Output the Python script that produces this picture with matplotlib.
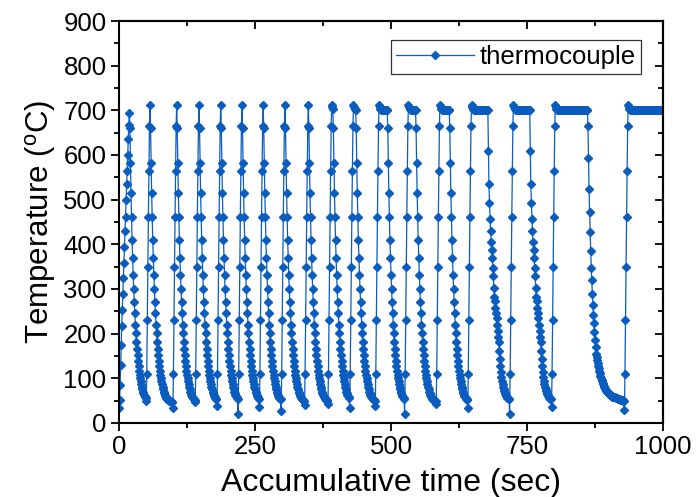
import numpy as np
import matplotlib
matplotlib.use("Agg")
import matplotlib.pyplot as plt
from matplotlib.ticker import MultipleLocator

plt.rcParams['font.family'] = ['Liberation Sans', 'DejaVu Sans']
plt.rcParams['mathtext.default'] = 'regular'

# ---- data (1 sample per second) ----
first_heat = [33, 51, 85, 130, 175, 216, 253, 289, 324, 359, 395, 429, 462, 500,
              534, 565, 601, 636, 668, 694]
heat_rise = [110, 230, 350, 460, 565, 665, 712]          # after the dip point
dips = [48, 33, 46, 37, 21, 35, 27, 40, 43, 33, 37, 21, 43, 34, 21, 36, 29]  # cycles 2..18
hold_lead = [707, 704, 702, 701]
hold_level = 700
hold_counts = [0, 0, 0, 0, 0, 0, 0, 0, 0, 2, 4, 15, 13, 17, 30, 30, 59, 72]
cool_counts = [30, 41, 33, 32, 31, 31, 32, 35, 35, 30, 35, 31, 37, 33, 39, 39, 67, 0]
cool_kind = ['fast'] * 14 + ['mid', 'mid', 'slow', 'fast']

cool_fast = [661, 583, 515, 461, 410, 369, 332, 300, 270, 246, 220, 201, 182, 166,
             152, 139, 127, 117, 108, 100, 93, 86, 80, 75, 70, 66, 63, 60, 58, 56,
             54, 53, 52, 51, 50, 49, 49, 48, 48, 47, 47]
cool_mid = [609, 534, 492, 457, 430, 406, 388, 369, 347, 328, 302, 283, 272, 257,
            246, 235, 220, 205, 193, 182, 160, 142, 127, 114, 103, 94, 87, 81, 76,
            72, 68, 65, 62, 60, 58, 56, 55, 54, 53]
cool_slow = [666, 594, 524, 473, 428, 386, 348, 319, 289, 263, 241, 223, 203, 185,
             170, 155, 147, 140, 134, 128, 122, 116, 111, 106, 101, 97, 93, 89, 86,
             83, 80, 78, 76, 74, 72, 70, 68, 67, 66, 65, 64, 63, 62, 61, 60, 59, 59,
             58, 58, 57, 57, 56, 56, 55, 55, 54, 54, 53, 53, 52, 52, 52, 51, 51, 51,
             50, 50]
cool_profiles = {'fast': cool_fast, 'mid': cool_mid, 'slow': cool_slow}

# ---- assemble the series ----
temps = []
for i in range(len(hold_counts)):
    if i == 0:
        temps += first_heat
    else:
        temps += [dips[i - 1]] + heat_rise
    n_hold = hold_counts[i]
    hold = hold_lead[:n_hold] + [hold_level] * max(0, n_hold - len(hold_lead))
    temps += hold
    prof = cool_profiles[cool_kind[i]]
    temps += prof[:cool_counts[i]]
temps = np.array(temps, dtype=float)
times = np.arange(len(temps), dtype=float)

# ---- plot ----
fig = plt.figure(figsize=(6.98, 4.97), dpi=100)
ax = fig.add_axes([0.1705, 0.1491, 0.7794, 0.8086])
color = '#0A5CBE'
ax.plot(times, temps, '-', color=color, lw=0.9, marker='D', ms=4.2,
        mec=color, mfc=color, label='thermocouple', clip_on=True)

ax.set_xlim(0, 1000)
ax.set_ylim(0, 900)
ax.xaxis.set_major_locator(MultipleLocator(250))
ax.xaxis.set_minor_locator(MultipleLocator(125))
ax.yaxis.set_major_locator(MultipleLocator(100))
ax.yaxis.set_minor_locator(MultipleLocator(50))

for s in ax.spines.values():
    s.set_linewidth(1.5)
ax.tick_params(which='both', direction='out', width=1.3, labelsize=18.5,
               top=False, right=False, pad=3)
ax.tick_params(which='major', length=6)
ax.tick_params(which='minor', length=3.5)

# mirrored inward ticks on top and right
secx = ax.secondary_xaxis('top')
secx.xaxis.set_major_locator(MultipleLocator(250))
secx.xaxis.set_minor_locator(MultipleLocator(125))
secx.tick_params(which='both', direction='in', width=1.3, labeltop=False)
secx.tick_params(which='major', length=6)
secx.tick_params(which='minor', length=3.5)
secx.spines['top'].set_linewidth(1.5)
secy = ax.secondary_yaxis('right')
secy.yaxis.set_major_locator(MultipleLocator(100))
secy.yaxis.set_minor_locator(MultipleLocator(50))
secy.tick_params(which='both', direction='in', width=1.3, labelright=False)
secy.tick_params(which='major', length=6)
secy.tick_params(which='minor', length=3.5)
secy.spines['right'].set_linewidth(1.5)

ax.set_xlabel('Accumulative time (sec)', fontsize=23, labelpad=6)
ax.set_ylabel('Temperature ($^{o}$C)', fontsize=22.5, labelpad=4)

leg = ax.legend(loc='upper right', bbox_to_anchor=(0.96, 0.953), fontsize=18.5,
                frameon=True, fancybox=False, handlelength=3.0,
                borderpad=0.2, handletextpad=0.25, borderaxespad=0)
leg.get_frame().set_edgecolor('black')
leg.get_frame().set_linewidth(0.9)

fig.savefig('out.png', dpi=100)
